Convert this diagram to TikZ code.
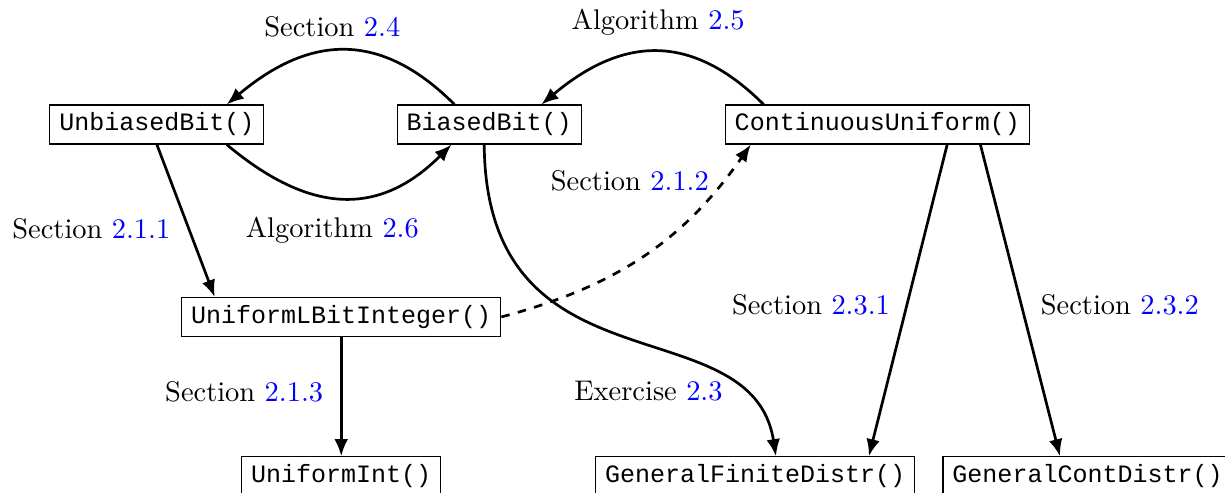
\documentclass[tikz,border=0pt]{standalone}
\usepackage{fontspec}
\usepackage{xcolor}
\usepackage{tikz}
\usetikzlibrary{arrows.meta}

\newfontfamily\codefont{Liberation Mono}
\newcommand{\refnum}[1]{\textcolor{blue}{#1}}

\begin{document}
\begin{tikzpicture}[
        func/.style={rectangle, draw=black, thin, fill=white, font=\codefont\fontsize{8.8}{10}\selectfont, text height=6.4pt, text depth=2.1pt, inner ysep=2.6pt},
        ref/.style={inner sep=1pt},
        arrow/.style={-{Latex[length=6pt,width=4.8pt]}, line width=0.95pt},
    ]
        \useasboundingbox (0,0) rectangle (15.15,-6.085);

        % generators
        \node[func] (unbiased) at (1.94, -1.54) {UnbiasedBit()};
        \node[func] (biased) at (6.05, -1.54) {BiasedBit()};
        \node[func] (contuni) at (10.85, -1.54) {ContinuousUniform()};
        \node[func] (lbit) at (4.22, -3.92) {UniformLBitInteger()};
        \node[func] (unifint) at (4.22, -5.89) {UniformInt()};
        \node[func] (finite) at (9.34, -5.89) {GeneralFiniteDistr()};
        \node[func] (contdistr) at (13.45, -5.89) {GeneralContDistr()};

        % references
        \node[ref] (sec24) at (4.11, -0.33) {Section \refnum{2.4}};
        \node[ref] (alg25) at (8.14, -0.27) {Algorithm \refnum{2.5}};
        \node[ref] (sec211) at (1.13, -2.83) {Section \refnum{2.1.1}};
        \node[ref] (alg26) at (4.11, -2.85) {Algorithm \refnum{2.6}};
        \node[ref] (sec212) at (7.79, -2.24) {Section \refnum{2.1.2}};
        \node[ref] (sec231) at (10.03, -3.77) {Section \refnum{2.3.1}};
        \node[ref] (sec232) at (13.85, -3.77) {Section \refnum{2.3.2}};
        \node[ref] (sec213) at (3.02, -4.84) {Section \refnum{2.1.3}};
        \node[ref] (ex23) at (8.02, -4.84) {Exercise \refnum{2.3}};

        \draw[arrow] (biased.150) to[out=135, in=40, looseness=1.2] (unbiased.16);
        \draw[arrow] (unbiased.-16) to[out=-40, in=-135, looseness=1.2] (biased.208);
        \draw[arrow] (contuni.170) to[out=135, in=40, looseness=1.2] (biased.21);
        \draw[arrow] (unbiased.south) -- (lbit.171);
        \draw[arrow, dashed] (lbit.east) to[out=15, in=-125] (contuni.189);
        \draw[arrow] (biased.-104) .. controls +(0.025,-3.14) and +(-0.3,1.9) .. (finite.44);
        \draw[arrow] (contuni.-16) -- (finite.10);
        \draw[arrow] (contuni.-11) -- (contdistr.144);
        \draw[arrow] (lbit.south) -- (unifint.north);

    \end{tikzpicture}
\end{document}
